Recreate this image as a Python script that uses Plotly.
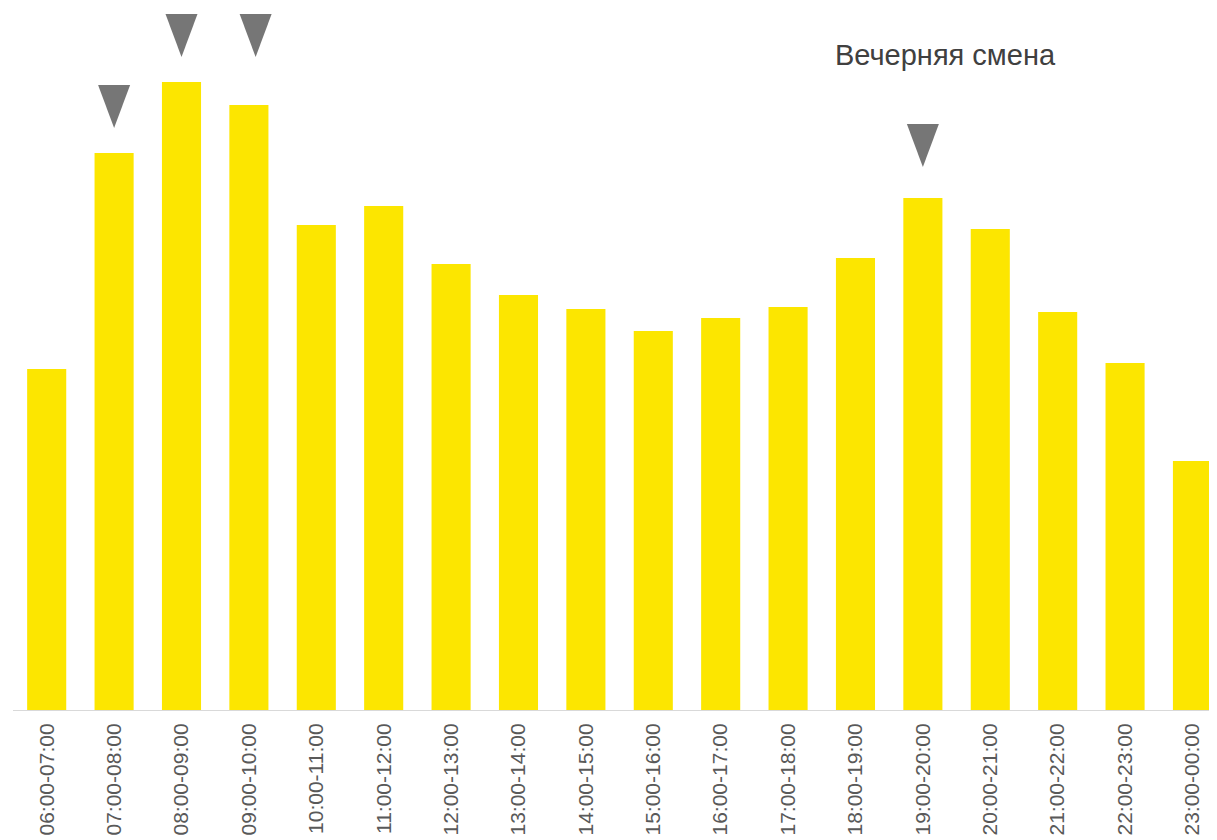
import plotly.graph_objects as go

categories = ["06:00-07:00", "07:00-08:00", "08:00-09:00", "09:00-10:00", "10:00-11:00",
              "11:00-12:00", "12:00-13:00", "13:00-14:00", "14:00-15:00", "15:00-16:00",
              "16:00-17:00", "17:00-18:00", "18:00-19:00", "19:00-20:00", "20:00-21:00",
              "21:00-22:00", "22:00-23:00", "23:00-00:00"]
values = [341, 557, 628, 605, 485, 504, 446, 415, 401, 379, 392, 403, 452, 512, 481, 398, 347, 249]

# peak markers (category position, top of marker in value units)
marker_x = [1.0, 2.0, 3.1, 13.0]
marker_top = [625, 696, 696, 586]

annotation_text = "Вечерняя смена"

idx = list(range(len(categories)))

fig = go.Figure()
fig.add_trace(go.Bar(x=idx, y=values, marker_color="#FCE600", marker_line_width=0,
                     width=0.58, showlegend=False))

shapes = []
for mx, mt in zip(marker_x, marker_top):
    shapes.append(dict(type="path", xref="x", yref="y", xsizemode="pixel", ysizemode="pixel",
                       xanchor=mx, yanchor=mt, path="M -16,0 L 16,0 L 0,-43 Z",
                       fillcolor="#767676", line=dict(width=0), layer="above"))

fig.update_layout(
    width=1209, height=832,
    margin=dict(l=5, r=0, t=0, b=130),
    plot_bgcolor="white", paper_bgcolor="white",
    shapes=shapes,
    xaxis=dict(range=[-0.5, 17.364], tickmode="array", tickvals=idx, ticktext=categories,
               tickangle=-90, showgrid=False, zeroline=False, showline=True,
               linecolor="#D9D9D9", linewidth=1, ticks="", ticklabelstandoff=4,
               tickfont=dict(family="Liberation Sans, Arial", size=21, color="#595959")),
    yaxis=dict(range=[0, 702], visible=False, showgrid=False, zeroline=False),
    annotations=[dict(text=annotation_text, x=13.34, y=655, xref="x", yref="y",
                      showarrow=False, xanchor="center", yanchor="middle",
                      font=dict(family="Liberation Sans, Arial", size=29, color="#404040"))],
)

fig.write_html("out.html")
